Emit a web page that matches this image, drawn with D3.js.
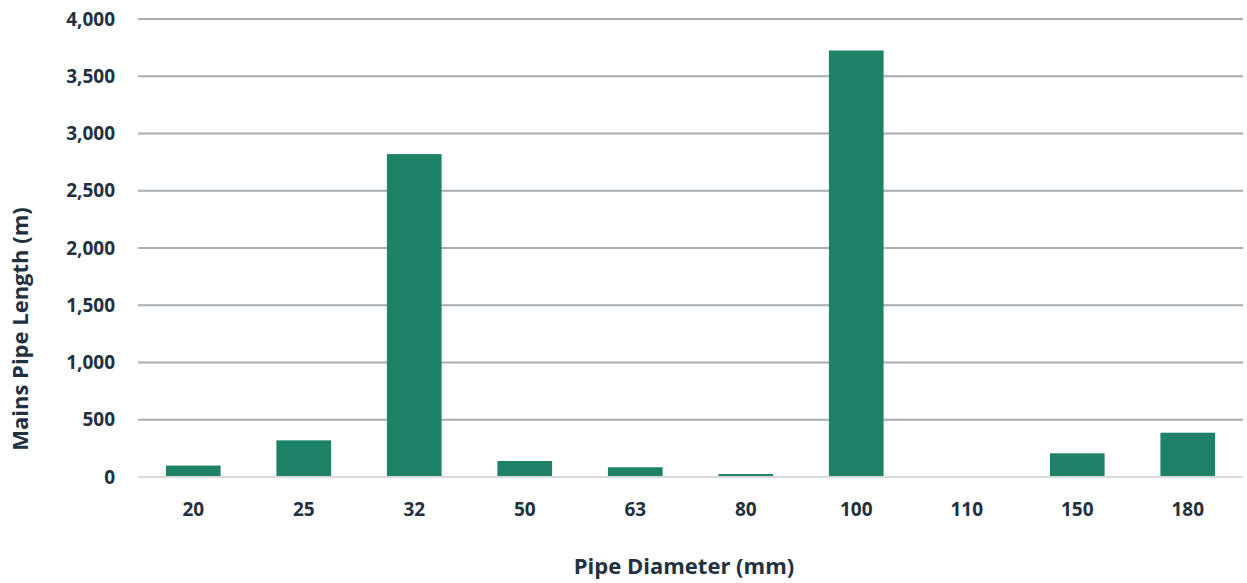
<!DOCTYPE html>
<html><head><meta charset="utf-8">
<script src="https://cdn.jsdelivr.net/npm/d3@7"></script>
<style>body{margin:0;background:#fff;}svg{display:block;font-family:"Open Sans",sans-serif;}</style>
</head><body><svg id="c" width="1247" height="583"></svg>
<script>
const categories = ["20","25","32","50","63","80","100","110","150","180"];
const lengths = [100, 320, 2820, 140, 85, 26, 3725, 0, 207, 387];
const yTicks = [0,500,1000,1500,2000,2500,3000,3500,4000];

const svg = d3.select("#c");
const m = {left:138, right:1243, top:19, bottom:477};
const x = d3.scaleBand().domain(categories).range([m.left, m.right]).paddingInner(0.505).paddingOuter(0.2525);
const y = d3.scaleLinear().domain([0,4000]).range([m.bottom, m.top]);
const txt = "#22313f";

const grid = svg.append("g");
grid.selectAll("line").data(yTicks.filter(d=>d>0)).join("line")
  .attr("x1", m.left).attr("x2", m.right)
  .attr("y1", d=>y(d)).attr("y2", d=>y(d))
  .attr("stroke", "#a9acb0").attr("stroke-width", 2);

svg.append("g").selectAll("rect").data(categories).join("rect")
  .attr("x", d=>x(d)).attr("width", x.bandwidth())
  .attr("y", (d,i)=>y(lengths[i])).attr("height", (d,i)=>y(0)-y(lengths[i]))
  .attr("fill", "#1d8268");

svg.append("line").attr("x1", m.left).attr("x2", m.right)
  .attr("y1", y(0)).attr("y2", y(0)).attr("stroke", "#d9d9d9").attr("stroke-width", 2);

const yAxis = d3.axisLeft(y).tickValues(yTicks).tickFormat(d3.format(",")).tickSize(0).tickPadding(0);
const ya = svg.append("g").attr("transform", `translate(115,0)`).call(yAxis);
ya.select(".domain").remove();
ya.selectAll("text").attr("font-size", 19).attr("font-weight", 700).attr("fill", txt).attr("font-family", "Open Sans, sans-serif");

const xAxis = d3.axisBottom(x).tickSize(0).tickPadding(0);
const xa = svg.append("g").attr("transform", `translate(0,${y(0)+25})`).call(xAxis);
xa.select(".domain").remove();
xa.selectAll("text").attr("font-size", 19).attr("font-weight", 700).attr("fill", txt).attr("font-family", "Open Sans, sans-serif");

svg.append("text").attr("x", 684).attr("y", 574)
  .attr("text-anchor", "middle").attr("font-size", 22).attr("font-weight", 700).attr("fill", txt)
  .text("Pipe Diameter (mm)");
svg.append("text").attr("transform", `translate(28,329) rotate(-90)`)
  .attr("text-anchor", "middle").attr("font-size", 22).attr("font-weight", 700).attr("fill", txt)
  .text("Mains Pipe Length (m)");
</script></body></html>
